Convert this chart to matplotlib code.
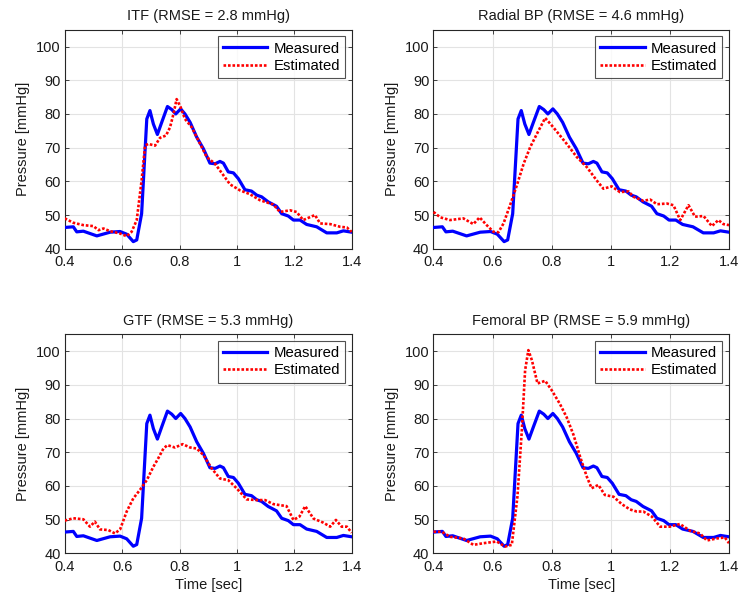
import matplotlib
matplotlib.use("Agg")
import matplotlib.pyplot as plt

plt.rcParams['font.family'] = ['Liberation Sans', 'DejaVu Sans']

# Measured pressure (shared across panels)
t_meas = [0.400, 0.430, 0.442, 0.465, 0.512, 0.558, 0.593, 0.616, 0.639, 0.651,
          0.668, 0.686, 0.697, 0.709, 0.723, 0.738, 0.758, 0.773, 0.787, 0.804,
          0.819, 0.837, 0.860, 0.883, 0.906, 0.924, 0.941, 0.953, 0.970, 0.988,
          1.005, 1.028, 1.051, 1.069, 1.086, 1.109, 1.138, 1.156, 1.179, 1.197,
          1.220, 1.243, 1.278, 1.313, 1.348, 1.371, 1.400]
p_meas = [46.3, 46.5, 45.0, 45.2, 43.8, 44.9, 45.1, 44.3, 42.1, 42.6,
          50.4, 78.5, 81.0, 77.0, 73.9, 77.5, 82.2, 81.3, 80.0, 81.5,
          80.0, 77.5, 73.1, 69.7, 65.4, 65.2, 65.9, 65.4, 62.8, 62.5,
          60.8, 57.5, 57.1, 55.9, 55.4, 53.9, 52.6, 50.4, 49.7, 48.5,
          48.5, 47.2, 46.5, 44.7, 44.7, 45.3, 44.9]

# Estimated: ITF
t_itf = [0.400, 0.430, 0.465, 0.500, 0.518, 0.535, 0.558, 0.593, 0.616, 0.633,
         0.651, 0.668, 0.680, 0.691, 0.715, 0.732, 0.753, 0.767, 0.779, 0.790,
         0.804, 0.819, 0.843, 0.866, 0.895, 0.924, 0.953, 0.976, 1.011, 1.045,
         1.080, 1.127, 1.150, 1.185, 1.208, 1.231, 1.272, 1.290, 1.325, 1.360,
         1.383, 1.400]
p_itf = [49.0, 47.7, 47.0, 46.7, 45.5, 46.0, 45.2, 44.5, 43.7, 45.0,
         48.5, 60.3, 70.6, 71.1, 70.6, 72.9, 73.6, 76.0, 80.0, 84.4,
         82.0, 78.5, 76.0, 72.1, 67.2, 65.2, 61.8, 59.1, 57.3, 56.2,
         54.4, 53.1, 50.9, 51.4, 50.9, 48.5, 50.0, 47.5, 47.3, 46.5,
         46.3, 45.0]

# Estimated: Radial BP
t_rad = [0.400, 0.423, 0.456, 0.501, 0.535, 0.556, 0.580, 0.603, 0.620, 0.637,
         0.659, 0.682, 0.705, 0.727, 0.750, 0.778, 0.800, 0.828, 0.851, 0.885,
         0.919, 0.952, 0.975, 1.003, 1.031, 1.060, 1.077, 1.110, 1.133, 1.156,
         1.190, 1.212, 1.235, 1.263, 1.285, 1.314, 1.342, 1.364, 1.381, 1.400]
p_rad = [50.9, 49.3, 48.5, 49.0, 47.3, 49.3, 47.0, 45.0, 44.9, 47.5,
         52.9, 58.8, 65.2, 70.1, 74.1, 78.8, 76.6, 73.6, 71.1, 67.2,
         64.2, 60.3, 57.8, 58.5, 56.8, 57.0, 55.4, 54.2, 54.6, 53.2,
         53.4, 52.9, 48.5, 52.9, 49.5, 49.7, 46.7, 48.5, 47.3, 47.0]

# Estimated: GTF
t_gtf = [0.400, 0.430, 0.465, 0.488, 0.505, 0.523, 0.552, 0.575, 0.593, 0.616,
         0.639, 0.662, 0.686, 0.709, 0.726, 0.744, 0.758, 0.784, 0.811, 0.837,
         0.860, 0.883, 0.912, 0.941, 0.970, 0.999, 1.034, 1.069, 1.098, 1.127,
         1.173, 1.197, 1.218, 1.238, 1.267, 1.301, 1.325, 1.345, 1.365, 1.383,
         1.400]
p_gtf = [49.7, 50.4, 50.1, 47.9, 49.4, 47.1, 46.9, 45.9, 47.1, 52.4,
         56.3, 58.8, 61.7, 65.7, 68.2, 71.1, 72.1, 71.4, 72.4, 71.4,
         71.1, 69.2, 65.2, 62.2, 61.7, 59.3, 56.0, 55.8, 55.8, 54.6,
         54.0, 49.9, 50.9, 54.0, 50.3, 49.1, 47.9, 49.9, 47.9, 47.9,
         46.1]

# Estimated: Femoral BP
t_fem = [0.400, 0.428, 0.456, 0.501, 0.535, 0.569, 0.614, 0.642, 0.665, 0.684,
         0.699, 0.710, 0.721, 0.733, 0.752, 0.778, 0.800, 0.828, 0.851, 0.874,
         0.896, 0.919, 0.935, 0.958, 0.980, 1.009, 1.037, 1.065, 1.088, 1.110,
         1.139, 1.167, 1.200, 1.234, 1.268, 1.302, 1.325, 1.358, 1.386, 1.400]
p_fem = [46.4, 46.4, 44.9, 44.4, 42.5, 43.0, 43.5, 42.0, 42.5, 56.8,
         76.6, 94.3, 100.3, 97.3, 90.4, 91.2, 88.4, 84.3, 80.3, 75.1,
         68.7, 62.7, 59.3, 60.3, 57.3, 56.8, 54.6, 53.0, 52.4, 52.4,
         50.9, 47.9, 47.9, 48.7, 46.7, 45.9, 43.8, 44.4, 44.7, 43.0]

titles = ["ITF (RMSE = 2.8 mmHg)", "Radial BP (RMSE = 4.6 mmHg)",
          "GTF (RMSE = 5.3 mmHg)", "Femoral BP (RMSE = 5.9 mmHg)"]
estimates = [(t_itf, p_itf), (t_rad, p_rad), (t_gtf, p_gtf), (t_fem, p_fem)]
legend_labels = ["Measured", "Estimated"]
xticks = [0.4, 0.6, 0.8, 1.0, 1.2, 1.4]
xticklabels = ["0.4", "0.6", "0.8", "1", "1.2", "1.4"]
yticks = [40, 50, 60, 70, 80, 90, 100]

fig = plt.figure(figsize=(7.40, 5.97), dpi=100)
W, H = 740, 597
lefts = [64.7, 433.5]
widths = [287.0, 295.5]
tops = [29.7, 334.3]
ah = 219.0

edge = '#262626'
for i in range(4):
    r, c = divmod(i, 2)
    ax = fig.add_axes([lefts[c] / W, (H - tops[r] - ah) / H, widths[c] / W, ah / H])
    ax.plot(t_meas, p_meas, color='#0000ff', lw=2.3, label=legend_labels[0], zorder=3)
    te, pe = estimates[i]
    ax.plot(te, pe, color='#ff0000', lw=1.9, linestyle=(0, (1, 0.7)),
            label=legend_labels[1], zorder=4)
    ax.set_xlim(0.4, 1.4)
    ax.set_ylim(40, 105)
    ax.set_xticks(xticks)
    ax.set_xticklabels(xticklabels)
    ax.set_yticks(yticks)
    ax.grid(True, color='#e3e3e3', lw=0.8)
    ax.set_axisbelow(True)
    ax.tick_params(direction='in', length=3, width=0.6, colors=edge,
                   labelsize=10.5, labelcolor='#1a1a1a', top=True, right=True, pad=3)
    ax.tick_params(axis='x', pad=4.5)
    for s in ax.spines.values():
        s.set_color(edge)
        s.set_linewidth(0.8)
    ax.set_title(titles[i], fontsize=10.5, pad=7, color='#1a1a1a')
    ax.set_ylabel("Pressure [mmHg]", fontsize=10.5, labelpad=4, color='#1a1a1a')
    if r == 1:
        ax.set_xlabel("Time [sec]", fontsize=10.5, labelpad=3, color='#1a1a1a')
    leg = ax.legend(loc='upper right', fontsize=10.7, handlelength=3.0,
                    frameon=True, fancybox=False, borderpad=0.35,
                    labelspacing=0.22, handletextpad=0.4, borderaxespad=0.45)
    leg.get_frame().set_edgecolor(edge)
    leg.get_frame().set_linewidth(0.8)

fig.savefig("out.png", dpi=100)
